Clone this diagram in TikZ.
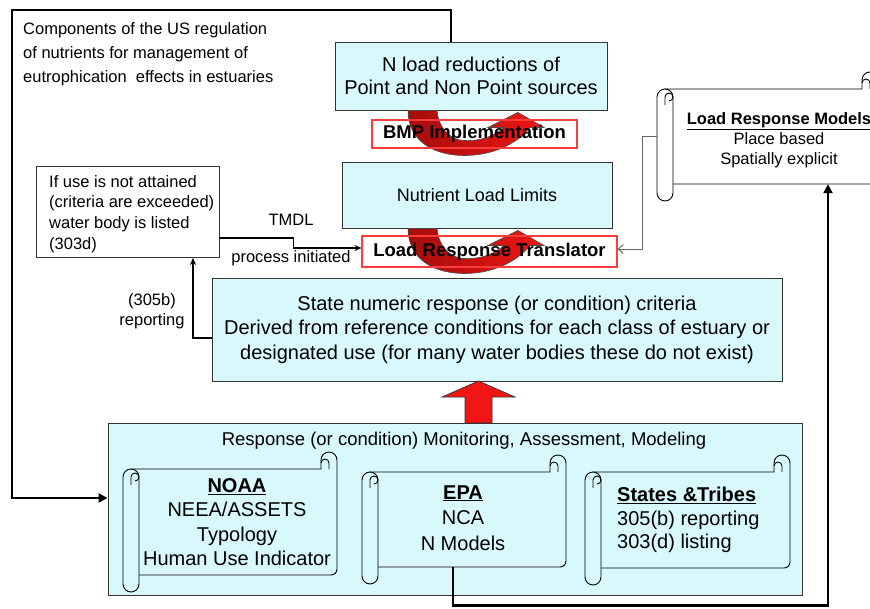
\documentclass[tikz,border=0pt]{standalone}
\usepackage{fontspec}
\setmainfont{Liberation Sans}
\usetikzlibrary{arrows.meta,calc}
\definecolor{cyanfill}{RGB}{217,248,252}
\definecolor{redline}{RGB}{255,60,60}
\definecolor{arrowred}{RGB}{240,22,22}
\definecolor{darkred}{RGB}{165,12,12}
\newcommand{\fs}[2]{\fontsize{#1}{#2}\selectfont}
% scroll: L R T B fill name
\newcommand{\scrollshape}[6]{%
  \draw[scrollline, fill=#5] ({#1+8},{-#3}) -- ({#2-16},{-#3}) -- ({#2-16},{-(#3-9)})
     arc[start angle=180,end angle=0,radius=8] -- ({#2},{-(#4-6)})
     arc[start angle=0,end angle=-90,radius=6] -- ({#1+8},{-#4}) -- cycle;
  \draw[scrollline] ({#2-8},{-#3}) -- ({#2-8},{-(#3-6)}) arc[start angle=0,end angle=180,radius=4];
  \draw[scrollline, fill=#5] ({#1},{-(#3+8)}) arc[start angle=180,end angle=0,radius=8]
     -- ({#1+16},{-(#4+9)}) arc[start angle=0,end angle=-180,radius=8] -- cycle;
  \draw[scrollline] ({#1+8},{-(#3+16)}) -- ({#1+8},{-(#3+8)}) arc[start angle=180,end angle=-90,radius=4];
  \node[inner sep=0pt, minimum width={#2-#1}, minimum height={#4-#3}] (#6) at ({(#1+#2)/2},{-(#3+#4)/2}) {};
}
\newcommand{\uturn}[2]{%
  \begin{scope}[shift={($(#1)+(#2,0)$)}]
  \draw[draw=black!70, line width=0.6pt, left color=darkred, right color=arrowred]
    (0,0) .. controls (0,-30) and (25,-46) .. (60,-45)
    .. controls (90,-44) and (112,-30) .. (122,-17) -- (136,-17) -- (110,-2) -- (80,-17) -- (96,-17)
    .. controls (85,-27) and (70,-31) .. (55,-30)
    .. controls (40,-29) and (30,-15) .. (29,0) -- cycle;
  \end{scope}}
\begin{document}
\begin{tikzpicture}[x=1pt,y=1pt,
  box/.style={draw=black!80, line width=0.9pt, inner sep=0pt},
  cbox/.style={box, fill=cyanfill},
  rbox/.style={draw=redline, line width=1.1pt, inner sep=0pt},
  scrollline/.style={draw=black, line width=0.9pt},
  heavy/.style={line width=2.8pt, -{Triangle[length=9pt,width=9pt]}},
  lightconn/.style={line width=1.3pt, -{Stealth[length=7pt,width=6pt]}},
  grayconn/.style={draw=black!60, line width=1pt, -{Straight Barb[length=5pt,width=9pt]}},
  lbl/.style={font=\fs{16.5}{20}, inner sep=0pt},
]
\useasboundingbox (0,0) rectangle (870,-608);
\clip (0,0) rectangle (870,-608);

\node[lbl, font=\fs{16.5}{24}, align=left, anchor=west] (intro) at (23,-54)
  {Components of the US regulation\\of nutrients for management of\\eutrophication~ effects in estuaries};

\node[cbox, minimum width=272, minimum height=68, font=\fs{20}{23}, align=center, text depth=-3pt] (nload) at (471,-76)
  {N load reductions of\\Point and Non Point sources};
\node[cbox, minimum width=270, minimum height=66, font=\fs{18}{22}] (nll) at (477,-195) {Nutrient Load Limits};

\uturn{nload.south}{-63}
\uturn{nll.south}{-69}

\node[rbox, minimum width=205, minimum height=28, font=\fs{18.5}{22}\bfseries] (bmp) at (474.5,-134) {BMP Implementation};
\node[rbox, minimum width=255, minimum height=31, font=\fs{18.5}{22}\bfseries] (lrt) at (489.5,-251.5) {Load Response Translator};

\node[box, fill=white, minimum width=183, minimum height=91] (ifbox) at (127.5,-212) {};
\node[lbl, font=\fs{16.5}{20.6}, align=left, anchor=west] (iftxt) at (49,-214)
  {If use is not attained\\(criteria are exceeded)\\water body is listed\\(303d)};

\node[cbox, minimum width=570, minimum height=103, font=\fs{20}{24.5}, align=center] (state) at (497,-329.5)
  {State numeric response (or condition) criteria\\Derived from reference conditions for each class of estuary or\\designated use (for many water bodies these do not exist)};

\node[cbox, minimum width=694, minimum height=172] (bottom) at (455,-509) {};
\node[inner sep=0pt, font=\fs{18.5}{22}] (btitle) at (464,-441) {Response (or condition) Monitoring, Assessment, Modeling};

\scrollshape{123}{337}{469}{575}{cyanfill}{noaa}
\scrollshape{362}{566}{472}{567}{cyanfill}{epa}
\scrollshape{585}{790}{472}{568}{cyanfill}{states}
\scrollshape{657}{878}{89}{184}{white}{lrm}

\node[inner sep=0pt, font=\fs{20}{24.3}, align=center] (noaatxt) at (237,-522)
  {\underline{\textbf{NOAA}}\\NEEA/ASSETS\\Typology\\Human Use Indicator};
\node[inner sep=0pt, font=\fs{20}{25.5}, align=center] (epatxt) at (463,-518)
  {\underline{\textbf{EPA}}\\NCA\\N Models};
\node[inner sep=0pt, font=\fs{20}{23.5}, align=left, anchor=west] (statestxt) at (617,-520)
  {\underline{\textbf{States \&Tribes}}\\305(b) reporting\\303(d) listing};
\node[inner sep=0pt, font=\fs{16.5}{20}, align=center] (lrmtxt) at (779,-140)
  {\underline{\textbf{Load Response Models}}\\Place based\\Spatially explicit};

\node[lbl] (tmdl) at (291,-220) {TMDL};
\node[lbl] (procinit) at (291,-258) {process initiated};
\node[lbl, align=center] (rep) at (152,-311) {(305b)\\reporting};

\coordinate (tl) at (12,-10);
\draw[heavy] ([xshift=-20pt]nload.north) |- (tl) |- ([yshift=11pt]bottom.west);
\coordinate (br) at (828,-605.5);
\draw[heavy, line width=2.5pt] ([xshift=-11pt]epa.south) |- (br) -- ([xshift=60.5pt]lrm.south);

\draw[lightconn] ([yshift=-26pt]ifbox.east) -- ++(74pt,0) |- ([yshift=3.5pt]lrt.west);
\draw[lightconn] ([yshift=-8.5pt]state.west) -| ([xshift=65.5pt]ifbox.south);
\draw[grayconn] (lrm.west) -- ++(-14pt,0) |- ([yshift=2.5pt]lrt.east);

\coordinate (upa) at (478.5,-381);
\draw[draw=black!80, line width=0.7pt, fill=arrowred] (upa) -- ++(36.5,-16) -- ++(-23,0) -- ++(0,-26)
  -- ++(-27,0) -- ++(0,26) -- ++(-23,0) -- cycle;
\end{tikzpicture}
\end{document}
